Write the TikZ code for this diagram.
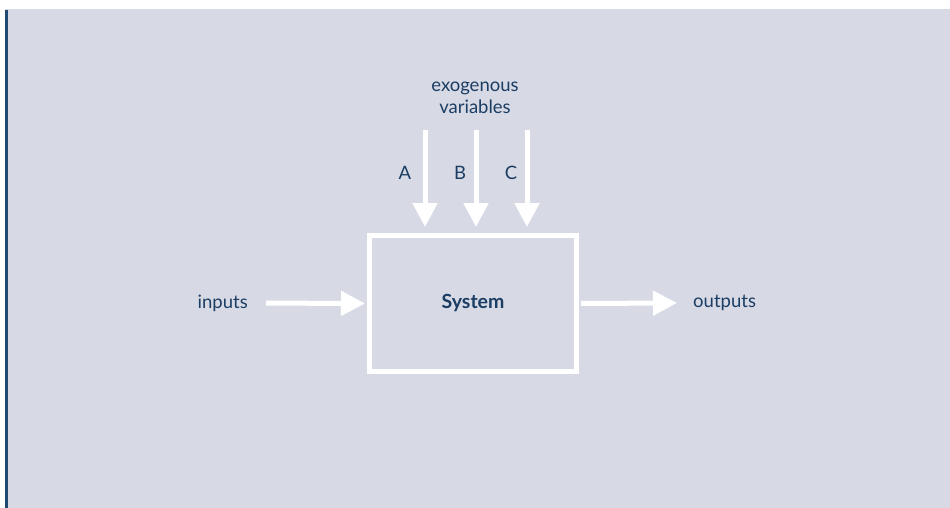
\documentclass[tikz,border=0pt]{standalone}
\usepackage{fontspec}
\setmainfont{Lato}
\usetikzlibrary{arrows.meta}
\definecolor{bgc}{HTML}{D7DAE5}
\definecolor{txt}{HTML}{1B3D63}
\definecolor{edge}{HTML}{1F4A72}
\begin{document}
\begin{tikzpicture}[x=1pt,y=-1pt,
  lbl/.style={text=txt,font=\fontsize{18.5}{22}\selectfont,inner sep=0pt},
  flow/.style={draw=white,line width=5pt,-{Triangle[width=24pt,length=24pt]}},
  sysbox/.style={draw=white,line width=5pt,minimum width=207pt,minimum height=136pt,text=txt,font=\fontsize{19.5}{22}\selectfont\bfseries}]
\useasboundingbox (0,0) rectangle (950,508);
\fill[white] (0,0) rectangle (950,508);
\fill[bgc] (5,9) rectangle (950,508);
\draw[edge,line width=2.5pt] (6.25,10) -- (6.25,508);
\node[sysbox] (sys) at (473,303.5) {System};
\coordinate (a0) at (425,130);
\coordinate (b0) at (476,130);
\coordinate (c0) at (527,130);
\draw[flow,shorten >=6pt] (a0) -- (a0 |- sys.north);
\draw[flow,shorten >=6pt] (b0) -- (b0 |- sys.north);
\draw[flow,shorten >=6pt] (c0) -- (c0 |- sys.north);
\node[lbl] (A) at (405,173) {A};
\node[lbl] (B) at (460,173) {B};
\node[lbl] (C) at (511,173) {C};
\node[lbl,align=center,font=\fontsize{18.5}{22}\selectfont] (exo) at (475,98) {exogenous\\variables};
\node[lbl,anchor=east] (in) at (248,303) {inputs};
\node[lbl,anchor=west] (out) at (693,303) {outputs};
\draw[flow,shorten <=18pt,shorten >=2pt] (in.east) -- (sys.west);
\draw[flow,shorten <=2pt] (sys.east) -- (677,303);
\end{tikzpicture}
\end{document}
